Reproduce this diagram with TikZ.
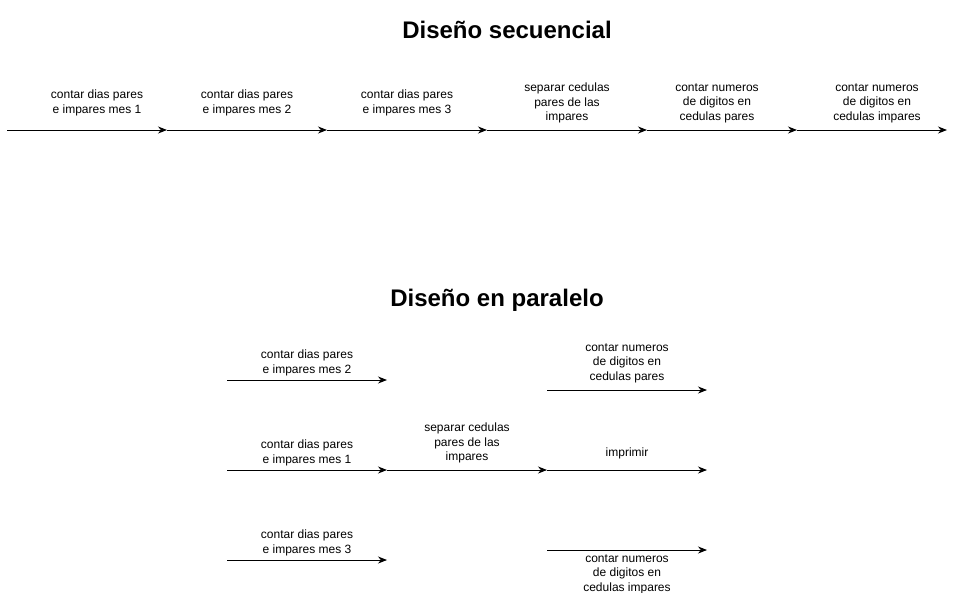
\documentclass[tikz,border=0pt]{standalone}
\usepackage{fontspec}
\setmainfont{Liberation Sans}
\usetikzlibrary{arrows.meta}
\begin{document}
\begin{tikzpicture}[x=1pt,y=-1pt,
  arr/.style={draw=black,line width=0.9pt,-{Stealth[length=9pt,width=7pt]}},
  lbl/.style={align=center,inner sep=0pt,font=\fontsize{12}{14.5}\selectfont},
  ttl/.style={inner sep=0pt,font=\fontsize{24}{28}\selectfont\bfseries}]
\useasboundingbox (0,0) rectangle (957,592);
% titles
\node[ttl] (t1) at (507,30) {Diseño secuencial};
\node[ttl] (t2) at (497,300) {Diseño en paralelo};
% sequential
\coordinate (s0) at (7,130);
\coordinate (s1) at (167,130);
\coordinate (s2) at (327,130);
\coordinate (s3) at (487,130);
\coordinate (s4) at (647,130);
\coordinate (s5) at (797,130);
\coordinate (s6) at (947,130);
\draw[arr] (s0) -- (s1);
\draw[arr] (s1) -- (s2);
\draw[arr] (s2) -- (s3);
\draw[arr] (s3) -- (s4);
\draw[arr] (s4) -- (s5);
\draw[arr] (s5) -- (s6);
\node[lbl] (l1) at (97,103) {contar dias pares\\e impares mes 1};
\node[lbl] (l2) at (247,103) {contar dias pares\\e impares mes 2};
\node[lbl] (l3) at (407,103) {contar dias pares\\e impares mes 3};
\node[lbl] (l4) at (567,103) {separar cedulas\\pares de las\\impares};
\node[lbl] (l5) at (717,103) {contar numeros\\de digitos en\\cedulas pares};
\node[lbl] (l6) at (877,103) {contar numeros\\de digitos en\\cedulas impares};
% parallel
\coordinate (a0) at (227,380);
\coordinate (a1) at (387,380);
\coordinate (b0) at (227,470);
\coordinate (b1) at (387,470);
\coordinate (b2) at (547,470);
\coordinate (b3) at (707,470);
\coordinate (c0) at (227,560);
\coordinate (c1) at (387,560);
\coordinate (d0) at (547,390);
\coordinate (d1) at (707,390);
\coordinate (e0) at (547,550);
\coordinate (e1) at (707,550);
\draw[arr] (a0) -- (a1);
\draw[arr] (b0) -- (b1);
\draw[arr] (b1) -- (b2);
\draw[arr] (b2) -- (b3);
\draw[arr] (c0) -- (c1);
\draw[arr] (d0) -- (d1);
\draw[arr] (e0) -- (e1);
\node[lbl] (m2) at (307,363) {contar dias pares\\e impares mes 2};
\node[lbl] (m1) at (307,453) {contar dias pares\\e impares mes 1};
\node[lbl] (m3) at (307,543) {contar dias pares\\e impares mes 3};
\node[lbl] (sp) at (467,443) {separar cedulas\\pares de las\\impares};
\node[lbl] (im) at (627,453) {imprimir};
\node[lbl] (cp) at (627,363) {contar numeros\\de digitos en\\cedulas pares};
\node[lbl] (ci) at (627,574) {contar numeros\\de digitos en\\cedulas impares};
\end{tikzpicture}
\end{document}
